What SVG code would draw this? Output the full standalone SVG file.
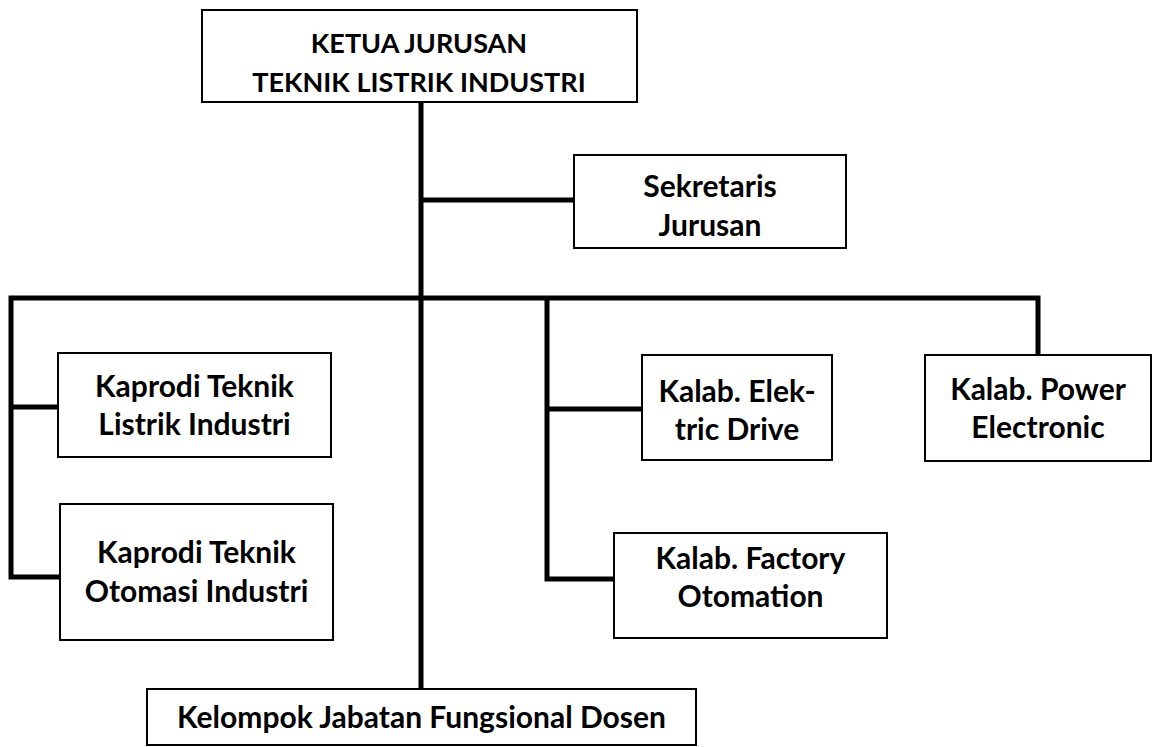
<svg xmlns="http://www.w3.org/2000/svg" width="1152" height="747" viewBox="0 0 1152 747">
<style>
.box{fill:#fff;stroke:#000;stroke-width:2}
.t{font-family:Lato,"Open Sans","Liberation Sans",sans-serif;font-weight:bold;font-size:30px;fill:#000;text-anchor:middle}
.u{font-size:27px}
.c{fill:none;stroke:#000;stroke-width:5;stroke-linejoin:miter;stroke-linecap:butt}
</style>
<rect width="1152" height="747" fill="#fff"/>
<g id="connectors">
<path class="c" d="M421,102 V689"/>
<path class="c" d="M421,200 H574"/>
<path class="c" d="M58,407 H11"/>
<path class="c" d="M60,577 H11 V298 H1038 V355"/>
<path class="c" d="M642,409 H547"/>
<path class="c" d="M614,579 H547 V298"/>
</g>
<g id="ketua">
<rect class="box" x="202" y="10" width="435" height="92"/>
<text class="t u" x="419" y="53">KETUA JURUSAN</text>
<text class="t u" x="419" y="92">TEKNIK LISTRIK INDUSTRI</text>
</g>
<g id="sekretaris">
<rect class="box" x="574" y="155" width="272" height="93"/>
<text class="t" x="710" y="197">Sekretaris</text>
<text class="t" x="710" y="236">Jurusan</text>
</g>
<g id="kaprodi-tli">
<rect class="box" x="58" y="353" width="273" height="104"/>
<text class="t" x="194.5" y="397">Kaprodi Teknik</text>
<text class="t" x="194.5" y="435">Listrik Industri</text>
</g>
<g id="kaprodi-toi">
<rect class="box" x="60" y="504" width="273" height="136"/>
<text class="t" x="196.5" y="563">Kaprodi Teknik</text>
<text class="t" x="196.5" y="602">Otomasi Industri</text>
</g>
<g id="kalab-elektric">
<rect class="box" x="642" y="355" width="190" height="105"/>
<text class="t" x="737" y="402">Kalab. Elek-</text>
<text class="t" x="737" y="440">tric Drive</text>
</g>
<g id="kalab-factory">
<rect class="box" x="614" y="533" width="273" height="105"/>
<text class="t" x="750.5" y="569">Kalab. Factory</text>
<text class="t" x="750.5" y="607">Otomation</text>
</g>
<g id="kalab-power">
<rect class="box" x="925" y="355" width="226" height="106"/>
<text class="t" x="1038" y="400">Kalab. Power</text>
<text class="t" x="1038" y="438">Electronic</text>
</g>
<g id="kelompok">
<rect class="box" x="147" y="689" width="549" height="56"/>
<text class="t" x="421.5" y="728">Kelompok Jabatan Fungsional Dosen</text>
</g>
</svg>
